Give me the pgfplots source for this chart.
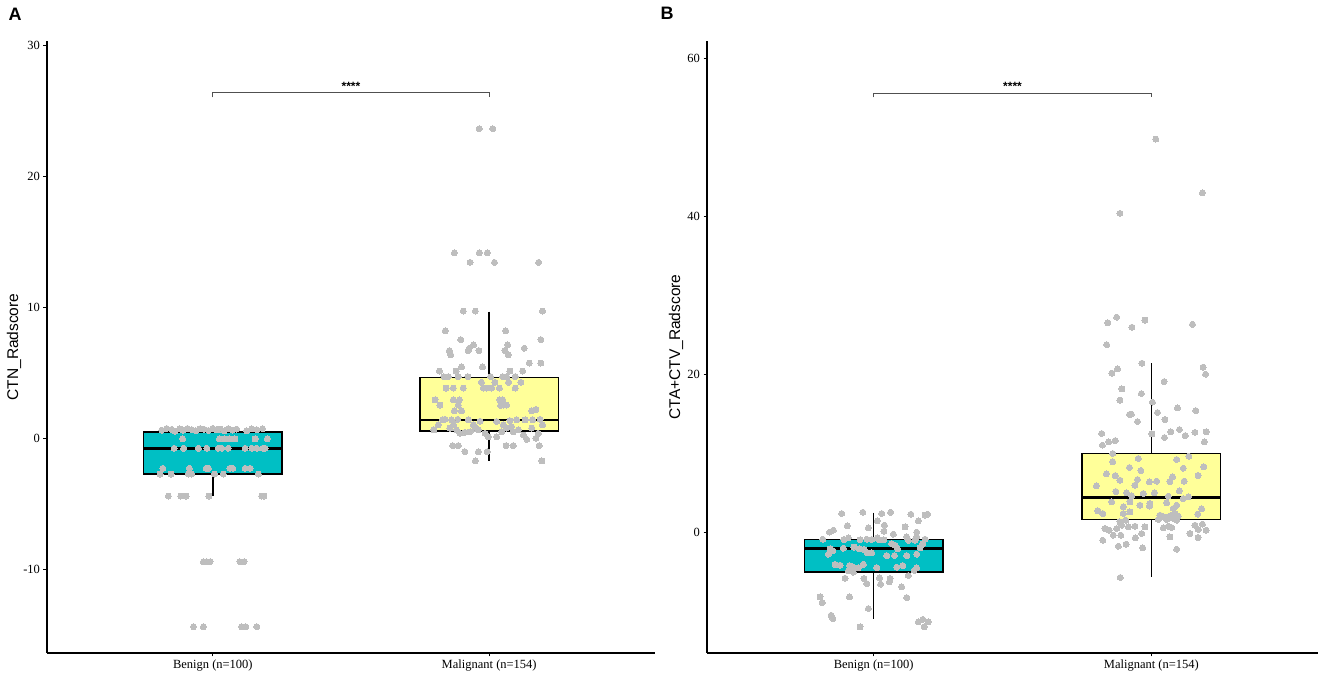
\documentclass[border=0pt]{standalone}
\usepackage{fontspec}
\setmainfont{Liberation Serif}
\newfontfamily\arial{Liberation Sans}
\usepackage{pgfplots}
\pgfplotsset{compat=1.18}
\usepgfplotslibrary{statistics}
\definecolor{teal1}{RGB}{0,191,196}
\definecolor{yel}{RGB}{255,255,153}
\definecolor{ptg}{RGB}{190,190,190}
\definecolor{brk}{RGB}{80,80,80}
\pgfplotsset{
 myax/.style={
  scale only axis, anchor=south west,
  axis lines=left, axis line style={-, line width=1.1pt, black},
  xmin=0.4, xmax=2.6, xtick={1,2}, xticklabels={Benign (n=100), Malignant (n=154)},
  tick align=outside, major tick length=3.5pt, tick style={black, line width=1pt},
  ticklabel style={font=\fontsize{12.5}{14}\selectfont},
  /pgf/number format/assume math mode=true,
  ylabel style={font=\arial\fontsize{15.5}{17}\selectfont, anchor=center},
  clip=false,
  boxplot/draw direction=y,
  boxplot/whisker extend=0,
  boxplot/every median/.style={line width=2.8pt},
  boxplot/every whisker/.style={line width=1.4pt, black},
 },
 pts/.style={only marks, mark=*, mark size=3pt, color=ptg, mark options={draw=ptg, fill=ptg, line width=0pt}},
 bx/.style={draw=black, line width=1.3pt},
}
\begin{document}
\begin{tikzpicture}
\path[use as bounding box] (0,0) rectangle (1325pt,677pt);
% ---------------- Panel A ----------------
\begin{axis}[myax, at={(47pt,24pt)}, width=608pt, height=612pt,
  ymin=-16.4, ymax=30.35, ytick={-10,0,10,20,30},
  ylabel={CTN\_Radscore}, ylabel style={at={(axis description cs:-0.0543,0.5)}}]
\addplot[bx, fill=teal1, boxplot prepared={draw position=1, lower whisker=-4.41, lower quartile=-2.73, median=-0.76, upper quartile=0.48, upper whisker=0.71, box extend=0.5}] coordinates {};
\addplot[bx, fill=yel, boxplot prepared={draw position=2, lower whisker=-1.71, lower quartile=0.56, median=1.40, upper quartile=4.66, upper whisker=9.67, box extend=0.5}] coordinates {};
% Benign points
\addplot[pts] coordinates {
(0.815,0.62)(0.833,0.75)(0.851,0.68)(0.863,0.55)(0.881,0.72)(0.893,0.62)(0.908,0.75)(0.924,0.66)(0.939,0.58)(0.954,0.74)(0.968,0.69)(0.984,0.60)(1.000,0.76)(1.014,0.65)(1.026,0.71)(1.041,0.57)(1.056,0.74)(1.072,0.63)(1.086,0.70)(1.122,0.58)(1.141,0.72)(1.159,0.66)(1.180,0.74)
(0.891,-0.05)(1.024,-0.05)(1.044,-0.05)(1.062,-0.05)(1.080,-0.05)(1.153,-0.05)(1.197,-0.05)
(0.860,-0.76)(0.894,-0.76)(0.948,-0.76)(0.978,-0.76)(1.020,-0.76)(1.032,-0.76)(1.056,-0.76)(1.117,-0.76)(1.141,-0.76)(1.159,-0.76)(1.181,-0.76)(1.189,-0.76)
(0.819,-2.29)(0.915,-2.29)(0.976,-2.29)(0.984,-2.29)(1.062,-2.29)(1.072,-2.29)(1.117,-2.29)(1.135,-2.29)
(0.809,-2.73)(0.849,-2.73)(0.911,-2.73)(0.923,-2.73)(1.006,-2.73)(1.038,-2.73)(1.165,-2.73)
(0.839,-4.41)(0.884,-4.41)(0.903,-4.41)(0.986,-4.41)(1.177,-4.41)(1.185,-4.41)
(0.966,-9.43)(0.978,-9.43)(0.990,-9.43)(1.098,-9.43)(1.113,-9.43)
(0.930,-14.39)(0.966,-14.39)(1.104,-14.39)(1.119,-14.39)(1.159,-14.39)
};
% Malignant points
\addplot[pts] coordinates {
(1.964,23.65)(2.013,23.65)
(1.874,14.16)(1.964,14.16)(1.993,14.16)
(1.931,13.44)(2.019,13.44)(2.179,13.44)
(1.906,9.72)(1.950,9.72)(2.193,9.72)
(1.841,8.20)(2.060,8.20)
(1.897,7.54)(2.187,7.54)
(1.943,7.13)(1.928,6.88)(1.924,6.70)(1.963,6.70)(1.856,6.70)(1.861,6.37)(2.057,6.70)(2.069,6.37)(2.127,6.88)(2.067,7.13)
(1.900,5.45)(1.976,5.45)(2.145,5.75)(2.187,5.75)(2.075,5.14)(1.820,5.14)(1.880,5.14)(2.121,5.14)
(1.923,4.71)(1.852,4.71)(1.836,4.71)(1.888,4.71)(2.005,4.71)(2.049,4.71)(2.063,4.71)(2.094,4.71)(2.115,4.28)(2.021,4.28)(1.972,4.28)(2.070,4.28)
(1.844,3.84)(1.870,3.84)(1.906,3.84)(1.979,3.84)(1.991,3.84)(2.009,3.84)(2.037,3.84)(2.094,3.84)
(1.804,2.93)(1.870,2.93)(1.892,2.93)(2.039,2.93)(2.049,2.93)(1.822,2.54)(1.888,2.54)(2.051,2.54)(2.063,2.54)(1.900,2.09)(1.874,2.09)(2.154,2.09)(2.169,2.20)(2.041,2.50)
(1.832,1.40)(1.840,1.45)(1.864,1.40)(1.886,1.45)(1.924,1.40)(1.967,1.30)(2.027,1.28)(2.075,1.35)(2.099,1.42)(2.130,1.40)(2.157,1.42)(2.184,1.45)
(1.800,0.64)(1.816,1.02)(1.858,0.78)(1.882,0.64)(1.894,0.38)(1.912,0.45)(1.931,0.50)(1.949,0.78)(1.961,0.64)(1.985,0.38)(1.997,0.12)(2.027,0.12)(2.045,0.50)(2.063,0.78)(2.081,0.90)(2.087,0.50)(2.105,0.64)(2.124,0.25)(2.136,-0.08)(2.154,0.78)(2.169,0.00)(2.178,0.38)(2.193,1.02)(1.870,1.02)(1.943,1.02)(2.051,1.02)
(1.868,-0.56)(1.888,-0.56)(2.061,-0.56)(2.087,-0.56)(2.181,-0.56)(1.912,-1.02)(1.961,-1.02)(1.993,-1.02)(1.950,-1.73)(2.191,-1.73)
};
\addplot[brk, line width=1.2pt] coordinates {(1,26.05)(1,26.43)(2,26.43)(2,26.05)};
\node[font=\arial\bfseries\fontsize{12}{12}\selectfont] at (axis cs:1.5,26.86) {****};
\end{axis}
% ---------------- Panel B ----------------
\begin{axis}[myax, at={(707pt,24pt)}, width=611pt, height=612pt,
  ymin=-15.2, ymax=62.2, ytick={0,20,40,60},
  ylabel={CTA+CTV\_Radscore}, ylabel style={at={(axis description cs:-0.0507,0.5)}}]
\addplot[bx, fill=teal1, boxplot prepared={draw position=1, lower whisker=-10.85, lower quartile=-4.94, median=-2.03, upper quartile=-0.81, upper whisker=2.56, box extend=0.5}] coordinates {};
\addplot[bx, fill=yel, boxplot prepared={draw position=2, lower whisker=-5.57, lower quartile=1.72, median=4.46, upper quartile=10.03, upper whisker=21.42, box extend=0.5}] coordinates {};
\addplot[pts] coordinates {
(0.885,2.44)(0.961,2.60)(1.029,2.44)(1.061,2.60)(1.134,2.35)(1.185,2.25)(1.194,2.35)
(1.013,1.51)(1.161,1.51)(0.905,0.88)(0.981,0.63)(1.039,0.96)(0.855,0.33)(0.841,0.08)(1.037,0.20)(1.113,0.75)(1.155,0.08)(1.071,-0.17)(1.155,-0.51)
(0.817,-0.81)(0.893,-0.85)(0.909,-0.65)(0.951,-0.88)(0.975,-0.81)(0.993,-0.85)(1.013,-0.65)(1.021,-0.88)(1.037,-0.88)(1.065,-1.36)(1.077,-1.57)(1.119,-0.51)(1.125,-0.95)(1.149,-0.95)(1.177,-1.36)(1.185,-0.81)
(0.843,-2.03)(0.853,-2.25)(0.837,-2.70)(0.891,-1.95)(0.929,-1.80)(0.949,-2.03)(0.965,-2.10)(0.977,-2.54)(0.993,-2.54)(1.047,-2.88)(1.075,-2.88)(1.119,-2.88)(1.155,-2.70)(1.167,-1.90)(1.086,-2.03)
(0.861,-4.00)(0.879,-4.10)(0.913,-4.14)(0.925,-4.30)(0.945,-4.43)(0.963,-3.98)(1.011,-4.40)(1.083,-4.35)(1.105,-4.14)(1.155,-4.43)(1.146,-4.75)(0.909,-4.81)(0.927,-4.98)
(0.897,-5.74)(0.965,-5.78)(0.975,-6.42)(1.021,-5.70)(1.025,-6.50)(1.059,-5.78)(1.057,-6.20)(1.101,-6.84)(1.119,-8.19)(1.125,-5.40)(0.913,-8.10)(0.807,-8.10)(0.815,-8.83)(0.981,-9.58)(0.847,-10.43)(0.853,-10.85)(0.951,-11.90)(1.161,-11.27)(1.177,-10.95)(1.197,-11.27)(1.182,-11.90)
};
\addplot[pts] coordinates {
(2.016,49.8)(2.184,43.0)(1.887,40.4)
(1.875,27.27)(1.843,26.56)(1.977,26.90)(1.930,26.0)(2.148,26.37)(1.839,23.8)
(1.966,21.45)(2.186,20.95)(1.878,20.73)(1.858,20.19)(2.195,20.06)(2.046,19.13)(1.894,18.2)(1.964,17.61)(1.887,16.78)(2.004,16.52)(1.921,14.96)(1.928,15.0)(2.022,15.21)(1.950,14.07)(2.049,14.33)(2.094,15.79)(2.160,15.45)
(1.821,12.56)(2.002,12.50)(2.070,12.77)(2.101,13.06)(2.122,12.3)(2.157,12.70)(2.197,12.77)(1.824,11.08)(1.846,11.5)(1.870,11.67)(2.047,12.05)(2.191,11.5)
(1.861,10.03)(1.861,8.97)(1.953,9.40)(2.091,9.27)(2.135,9.69)(1.838,7.45)(1.870,7.24)(1.921,8.26)(1.962,7.88)(2.115,8.17)(2.189,8.34)(2.168,7.24)(1.802,5.93)(1.887,6.65)(1.950,6.74)(1.993,6.44)(2.019,6.53)(2.076,7.07)(2.067,6.49)(2.118,6.53)(1.941,6.02)(2.101,5.30)(1.872,5.22)(1.911,5.05)(1.971,4.97)(2.011,5.05)(1.929,4.67)(1.857,3.91)(2.061,4.63)(2.133,4.54)
(1.899,3.28)(1.923,2.65)(1.959,3.49)(1.993,3.37)(2.055,3.79)(2.079,3.07)(2.091,3.49)(1.807,2.78)(1.825,2.44)(1.899,2.44)(2.031,2.23)(2.043,2.02)(2.061,2.02)(2.073,2.23)(2.085,2.44)(2.097,2.10)(2.167,2.36)(2.181,3.03)(1.995,3.70)(1.923,3.91)(2.115,4.33)
(2.025,1.68)(2.055,1.68)(2.079,1.81)(2.091,1.59)(1.887,1.38)(1.908,1.59)(1.833,0.54)(1.848,0.33)(1.875,0.54)(1.893,0.96)(1.917,0.75)(1.941,0.83)(1.977,0.75)(2.043,0.62)(2.061,0.83)(2.073,0.67)(2.157,0.96)(2.184,1.09)(2.169,0.42)(2.197,0.33)(1.863,-0.30)(1.890,-0.30)(1.965,-0.09)(2.139,-0.09)(2.067,-0.52)(1.825,-0.94)(1.942,-0.65)(1.881,-1.70)(1.909,-1.44)(1.969,-1.91)(2.091,-2.08)(2.168,-0.60)(1.888,-5.65)
};
\addplot[brk, line width=1.2pt] coordinates {(1,55.07)(1,55.57)(2,55.57)(2,55.07)};
\node[font=\arial\bfseries\fontsize{12}{12}\selectfont] at (axis cs:1.5,56.41) {****};
\end{axis}
\node[font=\arial\bfseries\fontsize{18}{18}\selectfont] at (15pt,662.5pt) {A};
\node[font=\arial\bfseries\fontsize{18}{18}\selectfont] at (667pt,664pt) {B};
\end{tikzpicture}
\end{document}
